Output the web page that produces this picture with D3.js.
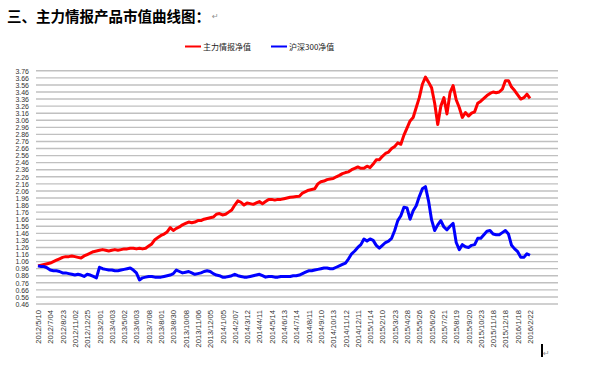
<!DOCTYPE html>
<html><head><meta charset="utf-8">
<script src="https://cdn.jsdelivr.net/npm/d3@7"></script>
<style>body{margin:0;background:#fff}svg{display:block}</style>
</head><body>
<svg id="c" width="595" height="374"></svg>
<script>
const seriesNames = ["主力情报净值", "沪深300净值"];
const xLabels = ["2012/5/10","2012/7/04","2012/8/23","2012/11/02","2012/12/25","2013/2/01","2013/4/03","2013/5/02","2013/6/03","2013/7/08","2013/8/01","2013/8/30","2013/10/08","2013/11/06","2013/12/05","2014/1/05","2014/2/07","2014/3/12","2014/4/11","2014/5/14","2014/6/13","2014/7/14","2014/8/11","2014/9/10","2014/10/13","2014/11/12","2014/12/11","2015/1/14","2015/2/10","2015/3/23","2015/4/28","2015/5/26","2015/6/26","2015/7/21","2015/8/19","2015/9/20","2015/10/23","2015/11/18","2015/12/18","2016/1/18","2016/2/22"];
const yTicks = [0.46,0.56,0.66,0.76,0.86,0.96,1.06,1.16,1.26,1.36,1.46,1.56,1.66,1.76,1.86,1.96,2.06,2.16,2.26,2.36,2.46,2.56,2.66,2.76,2.86,2.96,3.06,3.16,3.26,3.36,3.46,3.56,3.66,3.76];
const redValues = [1.00,1.01,1.02,1.03,1.04,1.06,1.08,1.10,1.12,1.13,1.13,1.14,1.13,1.12,1.11,1.14,1.16,1.18,1.20,1.21,
1.22,1.23,1.22,1.21,1.22,1.23,1.22,1.23,1.24,1.24,1.25,1.25,1.24,1.25,1.24,1.25,1.28,1.31,1.37,1.40,
1.43,1.45,1.48,1.54,1.50,1.53,1.55,1.58,1.60,1.62,1.61,1.62,1.64,1.64,1.66,1.67,1.68,1.69,1.73,1.74,
1.72,1.73,1.76,1.79,1.86,1.92,1.90,1.86,1.89,1.88,1.87,1.89,1.91,1.88,1.91,1.94,1.94,1.93,1.94,1.94,
1.95,1.96,1.97,1.975,1.98,1.985,2.03,2.05,2.07,2.08,2.09,2.16,2.19,2.20,2.22,2.23,2.235,2.26,2.28,2.305,
2.32,2.33,2.36,2.38,2.40,2.38,2.38,2.41,2.39,2.44,2.50,2.50,2.55,2.59,2.61,2.66,2.69,2.74,2.72,2.85,
2.95,3.05,3.10,3.24,3.38,3.57,3.67,3.60,3.52,3.30,3.00,3.26,3.38,3.15,3.45,3.55,3.35,3.24,3.10,3.17,
3.12,3.16,3.18,3.30,3.33,3.37,3.41,3.44,3.46,3.45,3.46,3.50,3.62,3.62,3.53,3.48,3.42,3.36,3.38,3.43,
3.37];
const blueValues = [1.00,0.99,0.99,0.97,0.94,0.93,0.93,0.92,0.90,0.90,0.89,0.88,0.87,0.88,0.87,0.85,0.88,0.87,0.85,0.83,
0.98,0.96,0.95,0.94,0.94,0.93,0.93,0.94,0.95,0.96,0.97,0.94,0.90,0.80,0.83,0.84,0.85,0.85,0.84,0.84,
0.84,0.85,0.86,0.87,0.89,0.94,0.92,0.90,0.91,0.92,0.90,0.88,0.89,0.90,0.92,0.93,0.92,0.89,0.87,0.86,
0.84,0.84,0.85,0.86,0.88,0.86,0.85,0.84,0.84,0.85,0.86,0.87,0.88,0.86,0.84,0.85,0.85,0.84,0.84,0.85,
0.85,0.85,0.85,0.86,0.86,0.87,0.89,0.91,0.93,0.93,0.94,0.95,0.96,0.97,0.97,0.96,0.96,0.98,1.00,1.02,
1.04,1.10,1.17,1.21,1.26,1.30,1.38,1.35,1.38,1.36,1.29,1.25,1.29,1.33,1.35,1.39,1.50,1.64,1.71,1.83,
1.82,1.66,1.78,1.85,1.98,2.09,2.12,1.92,1.65,1.50,1.58,1.64,1.55,1.51,1.56,1.60,1.33,1.23,1.30,1.27,
1.26,1.29,1.30,1.39,1.39,1.44,1.49,1.50,1.45,1.44,1.44,1.47,1.50,1.45,1.29,1.24,1.20,1.12,1.12,1.17,
1.15];
const colors = ["#ff0000", "#0000ff"];

const svg = d3.select("#c");
const plotL = 36, plotR = 558;
const x = d3.scaleLinear().domain([0, redValues.length - 1]).range([38, 530]);
const y = d3.scaleLinear().domain([0.46, 3.76]).range([304, 70.8]);

// title
svg.append("text").attr("x", 7).attr("y", 22)
  .attr("font-family", "'Noto Sans CJK SC', sans-serif").attr("font-weight", 700)
  .attr("font-size", 14.5).attr("fill", "#000").text("三、主力情报产品市值曲线图：");
svg.append("text").attr("x", 212).attr("y", 19)
  .attr("font-family", "'DejaVu Sans', sans-serif").attr("font-size", 8)
  .attr("fill", "#909090").text("↵");

// gridlines
svg.append("g").selectAll("line").data(yTicks).join("line")
  .attr("x1", plotL).attr("x2", plotR)
  .attr("y1", d => y(d)).attr("y2", d => y(d))
  .attr("stroke", "#c0c0c0").attr("stroke-width", 1.4);

// y axis labels
const yAxis = d3.axisLeft(y).tickValues(yTicks).tickFormat(d3.format(".2f")).tickSize(0).tickPadding(0);
const gy = svg.append("g").attr("transform", "translate(29,0)").call(yAxis);
gy.select(".domain").remove();
gy.selectAll("text").attr("font-family", "'Liberation Sans', Arial, sans-serif")
  .attr("font-size", 7).attr("fill", "#333");

// x axis labels
const labelIdx = xLabels.map((d, i) => i * 4);
const xAxis = d3.axisBottom(x).tickValues(labelIdx).tickFormat((d, i) => xLabels[i]).tickSize(0).tickPadding(0);
const gx = svg.append("g").attr("transform", "translate(0,304)").call(xAxis);
gx.select(".domain").remove();
gx.selectAll("text")
  .attr("font-family", "'Liberation Sans', Arial, sans-serif").attr("font-size", 7.6).attr("fill", "#333")
  .attr("transform", "rotate(-90)").attr("text-anchor", "end")
  .attr("x", -6).attr("y", 0).attr("dy", "0.33em");

// lines
const line = d3.line().x((d, i) => x(i)).y(d => y(d));
[redValues, blueValues].forEach((vals, s) => {
  svg.append("path").datum(vals).attr("d", line)
    .attr("fill", "none").attr("stroke", colors[s]).attr("stroke-width", 3)
    .attr("stroke-linejoin", "round");
});

// legend
const legX = [185, 271];
seriesNames.forEach((n, s) => {
  svg.append("line").attr("x1", legX[s]).attr("x2", legX[s] + 16).attr("y1", 46.5).attr("y2", 46.5)
    .attr("stroke", colors[s]).attr("stroke-width", 2);
  svg.append("text").attr("x", legX[s] + 18).attr("y", 49.5)
    .attr("font-family", "'Noto Sans CJK SC', sans-serif").attr("font-size", 8)
    .attr("fill", "#222").text(n);
});

// cursor + return mark at bottom right
svg.append("rect").attr("x", 541).attr("y", 344).attr("width", 2).attr("height", 13).attr("fill", "#000");
svg.append("text").attr("x", 543).attr("y", 356)
  .attr("font-family", "'DejaVu Sans', sans-serif").attr("font-size", 8)
  .attr("fill", "#909090").text("↵");
</script>
</body></html>
